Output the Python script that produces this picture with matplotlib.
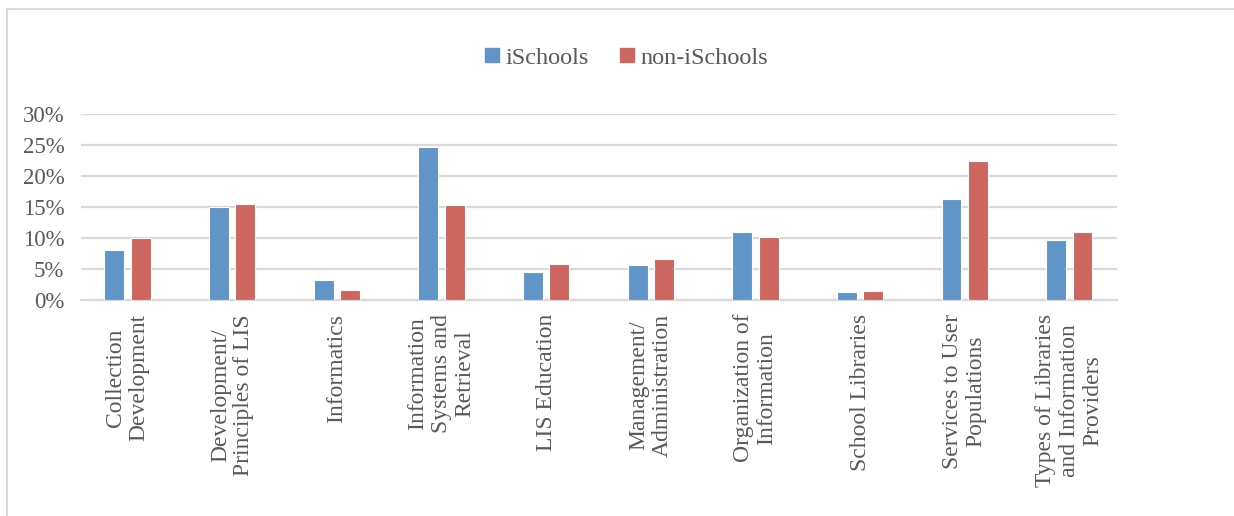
import matplotlib
matplotlib.use("Agg")
import matplotlib.pyplot as plt
import numpy as np
from matplotlib.lines import Line2D

categories = [
    "Collection\nDevelopment",
    "Development/\nPrinciples of LIS",
    "Informatics",
    "Information\nSystems and\nRetrieval",
    "LIS Education",
    "Management/\nAdministration",
    "Organization of\nInformation",
    "School Libraries",
    "Services to User\nPopulations",
    "Types of Libraries\nand Information\nProviders",
]
ischools = [8.0, 15.0, 3.3, 24.6, 4.5, 5.7, 11.0, 1.35, 16.3, 9.7]
non_ischools = [10.0, 15.5, 1.6, 15.3, 5.8, 6.6, 10.15, 1.5, 22.3, 11.0]
series_names = ["iSchools", "non-iSchools"]

blue = "#6195C8"
red = "#CD665F"
grid_c = "#D9D9D9"
text_c = "#595959"

plt.rcParams["font.family"] = ["Liberation Serif", "DejaVu Serif"]

fig = plt.figure(figsize=(12.34, 5.16), dpi=100)
ax = fig.add_axes([0.0656, 0.4186, 0.8394, 0.3611])

x = np.arange(len(categories))
w = 0.19
off = 0.126
ax.bar(x - off, ischools, w, color=blue, edgecolor="white", linewidth=0.8,
       label=series_names[0], zorder=3)
ax.bar(x + off, non_ischools, w, color=red, edgecolor="white", linewidth=0.8,
       label=series_names[1], zorder=3)

ax.set_xlim(-0.446, len(categories) - 1 + 0.454)
ax.set_ylim(0, 30)
ax.set_yticks(np.arange(0, 31, 5))
ax.set_yticklabels([f"{v}%" for v in range(0, 31, 5)])
ax.yaxis.grid(True, color=grid_c, linewidth=1.6, zorder=0)
ax.set_axisbelow(True)
for s in ["top", "right", "left"]:
    ax.spines[s].set_visible(False)
ax.spines["bottom"].set_color(grid_c)
ax.spines["bottom"].set_linewidth(1.6)
ax.tick_params(axis="y", length=0, labelsize=16.5, colors=text_c, pad=12)
ax.tick_params(axis="x", length=0)
ax.set_xticks(x)
ax.set_xticklabels([])

# rotated category labels, top-anchored just below the axis
for xi, lab in zip(x, categories):
    ax.annotate(lab, xy=(xi, 0), xycoords=("data", "axes fraction"),
                xytext=(0, -10), textcoords="offset points",
                rotation=90, ha="center", va="top", multialignment="center",
                fontsize=17, color=text_c, linespacing=1.15)

handles = [Line2D([], [], marker="s", linestyle="", markersize=10, color=c)
           for c in (blue, red)]
fig.legend(handles, series_names, loc="center", bbox_to_anchor=(0.507, 0.888),
           ncol=2, frameon=False, fontsize=17.5, handletextpad=0.2,
           handlelength=0.7, columnspacing=1.2, labelcolor=text_c)

# light chart border (top and left edges visible)
fig.add_artist(Line2D([7 / 1234, 1], [1 - 8.5 / 516, 1 - 8.5 / 516],
                      color=grid_c, linewidth=1.5, transform=fig.transFigure))
fig.add_artist(Line2D([7 / 1234, 7 / 1234], [0, 1 - 8.5 / 516],
                      color=grid_c, linewidth=1.5, transform=fig.transFigure))

fig.savefig("out.png", dpi=100)
